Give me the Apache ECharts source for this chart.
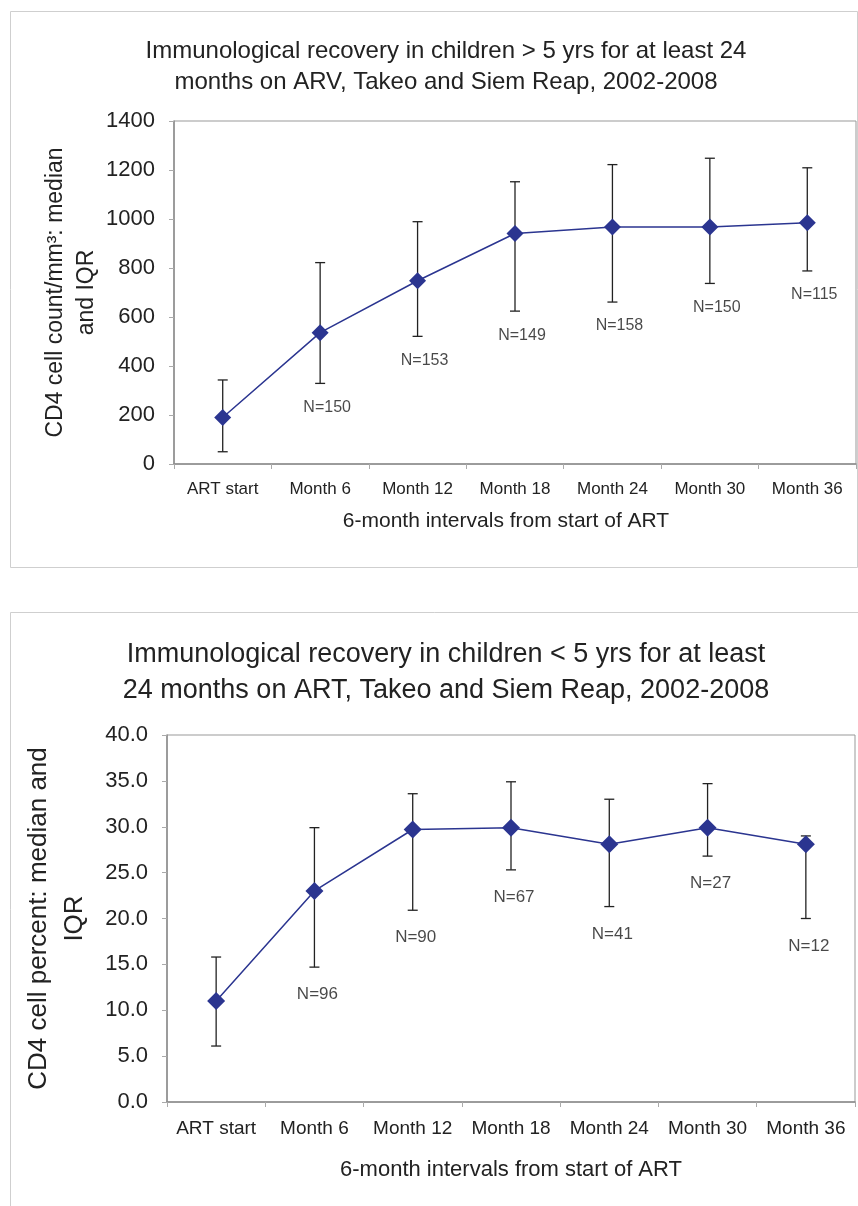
<!DOCTYPE html>
<html>
<head>
<meta charset="utf-8">
<script src="https://cdn.jsdelivr.net/npm/echarts@6/dist/echarts.min.js"></script>
<style>
  html, body { margin: 0; padding: 0; background: #fff; }
  #chart { width: 858px; height: 1206px; }
</style>
</head>
<body>
<div id="chart"></div>
<script>
// categories shared by both panels
const months = ['ART start', 'Month 6', 'Month 12', 'Month 18', 'Month 24', 'Month 30', 'Month 36'];

// top panel: children > 5 yrs, CD4 count
const countMedian = [190, 536, 748, 941, 967, 967, 985];
const countLow = [50, 329, 521, 624, 661, 737, 788];
const countHigh = [343, 822, 989, 1152, 1222, 1248, 1209];
const countN = ['', 'N=150', 'N=153', 'N=149', 'N=158', 'N=150', 'N=115'];

// bottom panel: children < 5 yrs, CD4 percent
const pctMedian = [11.0, 23.0, 29.7, 29.9, 28.1, 29.9, 28.1];
const pctLow = [6.1, 14.7, 20.9, 25.3, 21.3, 26.8, 20.0];
const pctHigh = [15.8, 29.9, 33.6, 34.9, 33.0, 34.7, 29.0];
const pctN = ['', 'N=96', 'N=90', 'N=67', 'N=41', 'N=27', 'N=12'];

const font = 'Liberation Sans, Arial, sans-serif';
const blue = '#2b3590';

function errorBars(idx, low, high, capHalf) {
  return {
    type: 'custom',
    xAxisIndex: idx,
    yAxisIndex: idx,
    z: 1,
    data: low.map((v, i) => [i, v, high[i]]),
    renderItem: (params, api) => {
      const lo = api.coord([api.value(0), api.value(1)]);
      const hi = api.coord([api.value(0), api.value(2)]);
      const st = { stroke: '#222', lineWidth: 1.3 };
      return {
        type: 'group',
        children: [
          { type: 'line', shape: { x1: lo[0], y1: lo[1], x2: hi[0], y2: hi[1] }, style: st },
          { type: 'line', shape: { x1: lo[0] - capHalf, y1: lo[1], x2: lo[0] + capHalf, y2: lo[1] }, style: st },
          { type: 'line', shape: { x1: hi[0] - capHalf, y1: hi[1], x2: hi[0] + capHalf, y2: hi[1] }, style: st }
        ]
      };
    }
  };
}

function nLabels(idx, low, labels, size, dist, dx) {
  return {
    type: 'scatter',
    xAxisIndex: idx,
    yAxisIndex: idx,
    symbolSize: 0,
    silent: true,
    data: low.map((v, i) => [i, v]),
    label: {
      show: true,
      position: 'bottom',
      distance: dist,
      offset: [dx, 0],
      formatter: p => labels[p.dataIndex],
      fontFamily: font,
      fontSize: size,
      color: '#1a1a1a'
    }
  };
}

function medianLine(idx, data, size) {
  return {
    type: 'line',
    xAxisIndex: idx,
    yAxisIndex: idx,
    z: 3,
    data: data,
    symbol: 'diamond',
    symbolSize: size,
    lineStyle: { color: blue, width: 1.5 },
    itemStyle: { color: blue },
    label: { show: false }
  };
}

const chart = echarts.init(document.getElementById('chart'));

const axisGray = '#8c8c8c';

chart.setOption({
  animation: false,
  title: [
    {
      text: 'Immunological recovery in children > 5 yrs for at least 24\nmonths on ARV, Takeo and Siem Reap, 2002-2008',
      left: 441, top: 31, textAlign: 'center',
      textStyle: { fontFamily: font, fontWeight: 'normal', fontSize: 24, lineHeight: 31, color: '#222' }
    },
    {
      text: 'Immunological recovery in children < 5 yrs for at least\n24 months on ART, Takeo and Siem Reap, 2002-2008',
      left: 441, top: 632, textAlign: 'center',
      textStyle: { fontFamily: font, fontWeight: 'normal', fontSize: 27, lineHeight: 36, color: '#222' }
    }
  ],
  graphic: [
    { type: 'rect', shape: { x: 10.5, y: 11.5, width: 847, height: 556 }, style: { fill: 'none', stroke: '#cfcfcf', lineWidth: 1 } },
    { type: 'rect', shape: { x: 10.5, y: 612.5, width: 870, height: 620 }, style: { fill: 'none', stroke: '#cfcfcf', lineWidth: 1 } }
  ],
  grid: [
    { left: 174, top: 121, width: 682, height: 343, show: true, borderColor: '#999', borderWidth: 1 },
    { left: 167, top: 735, width: 688, height: 367, show: true, borderColor: '#999', borderWidth: 1 }
  ],
  xAxis: [0, 1].map(i => ({
    type: 'category',
    gridIndex: i,
    data: months,
    boundaryGap: true,
    name: '6-month intervals from start of ART',
    nameLocation: 'middle',
    nameGap: i === 0 ? 47 : 57,
    nameTextStyle: {
      fontFamily: font, fontSize: i === 0 ? 21 : 22, color: '#222',
      padding: i === 0 ? [0, 18, 0, 0] : 0
    },
    axisLine: { lineStyle: { color: axisGray, width: 1.5 } },
    axisTick: { show: true, length: 5, lineStyle: { color: '#aaa' } },
    axisLabel: { margin: 17, fontFamily: font, fontSize: i === 0 ? 17 : 19, color: '#222', interval: 0 },
    splitLine: { show: false }
  })),
  yAxis: [
    {
      type: 'value', gridIndex: 0, min: 0, max: 1400, interval: 200,
      name: 'CD4 cell count/mm³: median\nand IQR',
      nameLocation: 'middle', nameRotate: 90, nameGap: 72, nameMoveOverlap: false,
      nameTextStyle: { fontFamily: font, fontSize: 23, lineHeight: 31, color: '#222' },
      axisLine: { show: true, lineStyle: { color: axisGray, width: 1.5 } },
      axisTick: { show: true, length: 5, lineStyle: { color: '#aaa' } },
      axisLabel: { margin: 19, fontFamily: font, fontSize: 22, color: '#222', formatter: v => String(v) },
      splitLine: { show: false }
    },
    {
      type: 'value', gridIndex: 1, min: 0, max: 40, interval: 5,
      name: 'CD4 cell percent: median and\nIQR',
      nameLocation: 'middle', nameRotate: 90, nameGap: 74, nameMoveOverlap: false,
      nameTextStyle: { fontFamily: font, fontSize: 26, lineHeight: 36, color: '#222' },
      axisLine: { show: true, lineStyle: { color: axisGray, width: 1.5 } },
      axisTick: { show: true, length: 5, lineStyle: { color: '#aaa' } },
      axisLabel: { margin: 19, fontFamily: font, fontSize: 22, color: '#222', formatter: v => v.toFixed(1) },
      splitLine: { show: false }
    }
  ],
  series: [
    errorBars(0, countLow, countHigh, 5),
    medianLine(0, countMedian, 17),
    nLabels(0, countLow, countN, 16, 16, 7),
    errorBars(1, pctLow, pctHigh, 5),
    medianLine(1, pctMedian, 18),
    nLabels(1, pctLow, pctN, 17, 19, 3)
  ]
});
</script>
</body>
</html>
